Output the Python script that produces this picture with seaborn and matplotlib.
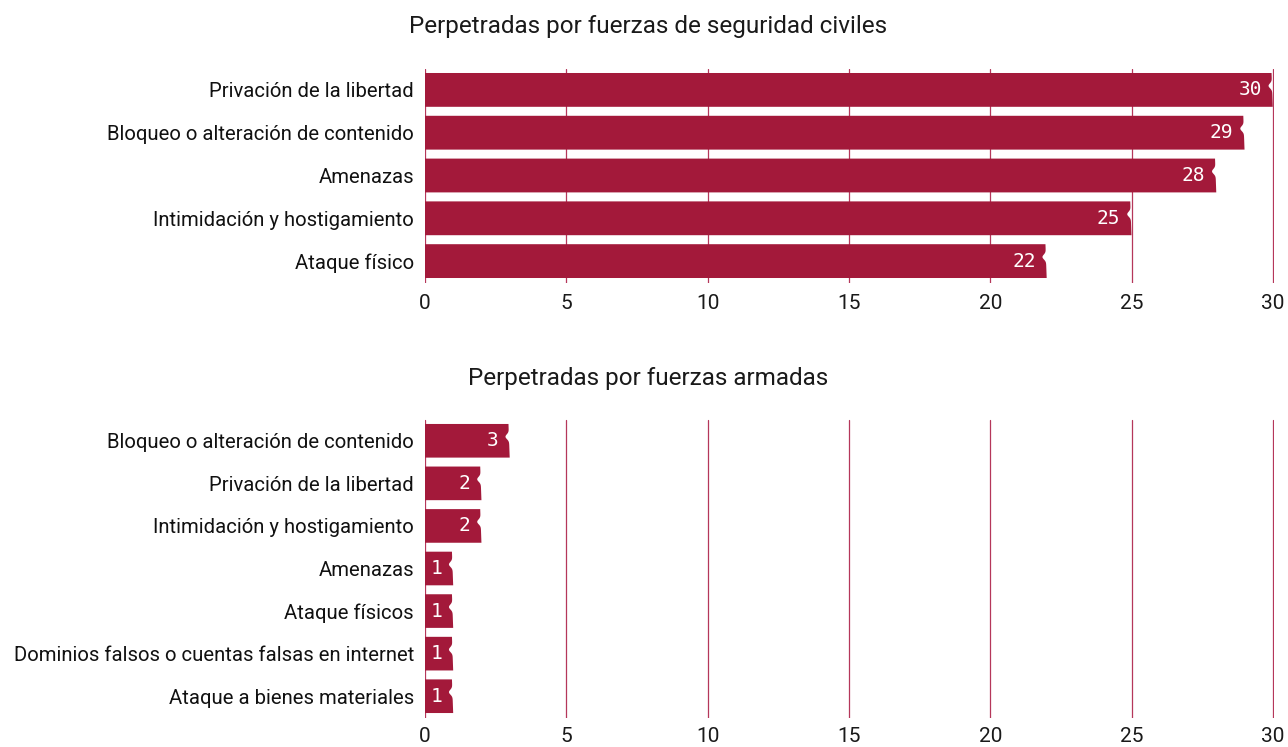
import numpy as np
import matplotlib
matplotlib.use("Agg")
import matplotlib.pyplot as plt
from matplotlib.patches import Polygon
import seaborn as sns
import pandas as pd

# ---- data ----
top_title = "Perpetradas por fuerzas de seguridad civiles"
top_categories = ["Privación de la libertad", "Bloqueo o alteración de contenido",
                  "Amenazas", "Intimidación y hostigamiento", "Ataque físico"]
top_values = [30, 29, 28, 25, 22]

bottom_title = "Perpetradas por fuerzas armadas"
bottom_categories = ["Bloqueo o alteración de contenido", "Privación de la libertad",
                     "Intimidación y hostigamiento", "Amenazas", "Ataque físicos",
                     "Dominios falsos o cuentas falsas en internet",
                     "Ataque a bienes materiales"]
bottom_values = [3, 2, 2, 1, 1, 1, 1]

x_ticks = [0, 5, 10, 15, 20, 25, 30]

BAR = "#a3193a"
GRID = "#b5375a"

sns.set_theme(style="white")
plt.rcParams["font.family"] = ["Roboto", "DejaVu Sans"]

fig = plt.figure(figsize=(12.88, 7.47), dpi=100)
W, H = 1288, 747


def make_axes(top_px, bottom_px, left_px=425, right_px=1274):
    return fig.add_axes([left_px / W, 1 - bottom_px / H,
                         (right_px - left_px) / W, (bottom_px - top_px) / H])


ax_top = make_axes(68.5, 282.5)
ax_bot = make_axes(419.5, 717.5)


def torn(ax, fig_px_per_unit):
    amp = 3.5 / fig_px_per_unit
    for p in list(ax.patches):
        x0, y0 = p.get_x(), p.get_y()
        w, h = p.get_width(), p.get_height()
        xe = x0 + w
        t = np.linspace(0, 1, 40)
        edge_x = xe - amp * 0.2 + amp * 0.35 * (t - 0.5) \
            - amp * np.exp(-((t - 0.38) / 0.1) ** 2)
        edge_y = y0 + t * h
        verts = [(x0, y0)] + list(zip(edge_x, edge_y)) + [(x0, y0 + h)]
        poly = Polygon(verts, closed=True, facecolor=p.get_facecolor(),
                       edgecolor="none", zorder=p.get_zorder())
        p.set_visible(False)
        ax.add_patch(poly)


def draw(ax, cats, vals, xpad):
    df = pd.DataFrame({"cat": cats, "val": vals})
    sns.barplot(data=df, y="cat", x="val", orient="h", color=BAR,
                saturation=1, width=0.79, ax=ax, zorder=3)
    ax.set_xlim(0, 30.04)
    ax.set_ylim(len(cats) - 0.5, -0.5)
    ax.set_xticks(x_ticks)
    ax.set_xlabel("")
    ax.set_ylabel("")
    for s in ax.spines.values():
        s.set_visible(False)
    ax.grid(axis="x", color=GRID, linewidth=0.9, zorder=0)
    ax.grid(axis="y", visible=False)
    ax.set_axisbelow(True)
    ax.tick_params(axis="x", length=5, width=0.9, color=GRID, pad=xpad,
                   labelsize=15, labelcolor="#1a1a1a")
    ax.tick_params(axis="y", length=0, pad=8, labelsize=14.6,
                   labelcolor="#111111")
    ppu = (1273 - 425) / 30.0
    torn(ax, ppu)
    for i, v in enumerate(vals):
        ax.annotate(str(v), xy=(v, i), xytext=(-8, 0),
                    textcoords="offset points", ha="right", va="center",
                    color="white", fontsize=14,
                    family=["DejaVu Sans Mono"], zorder=5)


draw(ax_top, top_categories, top_values, 3)
draw(ax_bot, bottom_categories, bottom_values, 1.5)

fig.text(648 / W, 1 - 27 / H, top_title, ha="center", va="center",
         fontsize=17.5, color="#1a1a1a")
fig.text(648 / W, 1 - 378 / H, bottom_title, ha="center", va="center",
         fontsize=17.5, color="#1a1a1a")

fig.savefig("out.png", dpi=100, facecolor="white")
